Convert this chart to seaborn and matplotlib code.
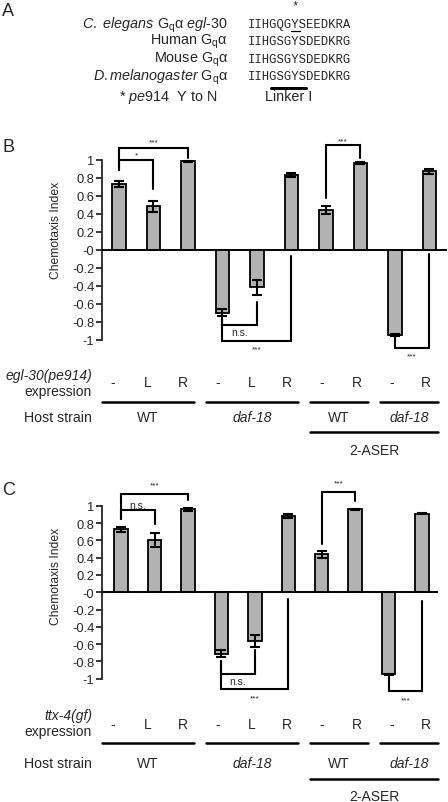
import numpy as np
import pandas as pd
import matplotlib.pyplot as plt
import seaborn as sns
from matplotlib.lines import Line2D

sns.set_style("ticks")
plt.rcParams['font.family'] = ['Liberation Sans', 'DejaVu Sans']
plt.rcParams['mathtext.fontset'] = 'custom'
plt.rcParams['mathtext.rm'] = 'Liberation Sans'
plt.rcParams['mathtext.it'] = 'Liberation Sans:italic'
plt.rcParams['axes.unicode_minus'] = False

W, H = 448, 803

# ---- data
conditions = ['WT -', 'WT L', 'WT R', 'daf-18 -', 'daf-18 L', 'daf-18 R',
              '2-ASER WT -', '2-ASER WT R', '2-ASER daf-18 -', '2-ASER daf-18 R']
expression = ['-', 'L', 'R', '-', 'L', 'R', '-', 'R', '-', 'R']
host_groups = ['WT', 'daf-18', 'WT', 'daf-18']
host_sizes = [3, 3, 2, 2]

egl30_ci = [0.73, 0.48, 0.98, -0.70, -0.42, 0.83, 0.44, 0.96, -0.95, 0.87]
egl30_sem = [0.03, 0.06, 0.01, 0.04, 0.08, 0.02, 0.04, 0.01, 0.01, 0.03]
ttx4_ci = [0.73, 0.60, 0.96, -0.71, -0.56, 0.88, 0.44, 0.96, -0.95, 0.91]
ttx4_sem = [0.03, 0.08, 0.02, 0.04, 0.07, 0.02, 0.04, 0.005, 0.01, 0.01]

# bracket: (bar i, bar j, level, leg end i, leg end j, label, label y)
egl30_sig = [(0, 1, 1.00, 0.88, 0.67, '*', 1.05),
             (0, 2, 1.13, 0.88, 1.02, '***', 1.20),
             (6, 7, 1.16, 0.57, 1.02, '***', 1.21),
             (3, 4, -0.84, -0.76, -0.58, 'n.s.', -0.92),
             (3, 5, -1.01, -0.76, -0.07, '***', -1.10),
             (8, 9, -1.09, -0.96, -0.05, '***', -1.18)]
ttx4_sig = [(0, 1, 0.95, 0.85, 0.79, 'n.s.', 1.01),
            (0, 2, 1.14, 0.85, 1.07, '***', 1.24),
            (6, 7, 1.16, 0.56, 1.05, '***', 1.27),
            (3, 4, -0.95, -0.80, -0.67, 'n.s.', -1.03),
            (3, 5, -1.12, -0.80, -0.08, '***', -1.22),
            (8, 9, -1.14, -0.97, -0.10, '***', -1.24)]

seq_names = [r'$\it{C.\ elegans}$ G$_\mathrm{q}$α $\it{egl}$-$\it{30}$',
             r'Human G$_\mathrm{q}$α', r'Mouse G$_\mathrm{q}$α',
             r'$\it{D.melanogaster}$ G$_\mathrm{q}$α']
sequences = ['IIHGQGYSEEDKRA', 'IIHGSGYSDEDKRG', 'IIHGSGYSDEDKRG', 'IIHGSGYSDEDKRG']


def fx(x):
    return x / W


def fy(y):
    return 1 - y / H


def hline(fig, x0, x1, y, lw=1.8):
    fig.add_artist(Line2D([fx(x0), fx(x1)], [fy(y), fy(y)], color='black', lw=lw))


fig = plt.figure(figsize=(W / 100, H / 100), dpi=100)

# ---- panel A
fig.text(fx(2), fy(12), 'A', fontsize=13, va='center')
for k, (name, s) in enumerate(zip(seq_names, sequences)):
    y = 25 + 17.3 * k
    fig.text(fx(228), fy(y), name, fontsize=10.4, ha='right', va='center')
    fig.text(fx(248), fy(y), s, fontsize=8.8, family='Liberation Mono', va='center')
fig.text(fx(295.5), fy(6), '*', fontsize=9, ha='center', va='center', family='Liberation Mono')
hline(fig, 291, 299.5, 31.5, lw=0.9)
hline(fig, 271, 306, 88.5, lw=2.2)
fig.text(fx(217), fy(97), r'* $\it{pe914}$  Y to N', fontsize=10.4, ha='right', va='center')
fig.text(fx(289), fy(97), 'Linker I', fontsize=10.4, ha='center', va='center')


def panel(rect, xlim, ylim, ci, sem, sig, gene, rows, letter, letter_y, label_y):
    ax = fig.add_axes(rect)
    df = pd.DataFrame({'condition': conditions, 'ci': ci})
    sns.barplot(data=df, x='condition', y='ci', order=conditions, ax=ax,
                color='#b2b2b2', saturation=1, edgecolor='black', linewidth=1.3,
                width=0.4, errorbar=None)
    ax.errorbar(np.arange(len(ci)), ci, yerr=sem, fmt='none', ecolor='black',
                elinewidth=1.5, capsize=3.5, capthick=1.5)
    ax.axhline(0, color='black', lw=1.4, zorder=5)
    ax.set_xlim(*xlim)
    ax.set_ylim(*ylim)
    for side in ['top', 'right', 'bottom']:
        ax.spines[side].set_visible(False)
    ax.spines['left'].set_bounds(-1, 1)
    ax.spines['left'].set_linewidth(1.3)
    ticks = np.round(np.arange(-1, 1.01, 0.2), 1)
    ax.set_yticks(ticks)
    ax.set_yticklabels([f'{t:g}' for t in ticks])
    ax.set_xticks([])
    ax.set_xlabel('')
    ax.tick_params(axis='y', direction='out', length=4.5, width=1.3, labelsize=9.3, pad=1)
    ax.set_ylabel('Chemotaxis Index', fontsize=8.7)
    # label sits a little above the zero line, as in the original
    ax.yaxis.set_label_coords((62 - rect[0] * W) / (rect[2] * W),
                              (label_y - ylim[0]) / (ylim[1] - ylim[0]))
    ax.patch.set_alpha(0)

    for i, j, lev, yi, yj, lab, ly in sig:
        ax.plot([i, i, j, j], [yi, lev, lev, yj], color='black', lw=1.5,
                clip_on=False, solid_joinstyle='miter')
        ax.text((i + j) / 2, ly, lab, ha='center', va='center',
                fontsize=7.5 if lab == 'n.s.' else 6)

    fig.text(fx(2), fy(letter_y), letter, fontsize=13, va='center')

    # category table below
    gene_y, expr_y, lab_y, line_y, host_y, aser_line_y, aser_y = rows
    fig.text(fx(92), fy(gene_y), gene, fontsize=10, ha='right', va='center', style='italic')
    fig.text(fx(92), fy(expr_y), 'expression', fontsize=10, ha='right', va='center')
    fig.text(fx(92), fy(host_y), 'Host strain', fontsize=10.2, ha='right', va='center')
    lab_x = [113 + 34.8 * k for k in range(len(expression))]
    for x, e in zip(lab_x, expression):
        fig.text(fx(x), fy(lab_y), e, fontsize=10, ha='center', va='center')
    start = 0
    for g, n in zip(host_groups, host_sizes):
        x0 = lab_x[start] - 11.4
        x1 = lab_x[start + n - 1] + 11.4
        hline(fig, x0, x1, line_y)
        fig.text(fx((x0 + x1) / 2), fy(host_y), g, fontsize=10, ha='center', va='center',
                 style='italic' if g != 'WT' else 'normal')
        start += n
    x0 = lab_x[6] - 11.4
    x1 = lab_x[9] + 11.4
    hline(fig, x0, x1, aser_line_y)
    fig.text(fx((x0 + x1) / 2), fy(aser_y), '2-ASER', fontsize=10, ha='center', va='center')
    return ax


# panel B: y=0 at px 250.7, 90 px per unit, spine at px 102
panel([102 / W, fy(250.7 + 90 * 1.3), 345 / W, 90 * 2.6 / H], (-0.49, 9.51), (-1.3, 1.3),
      egl30_ci, egl30_sem, egl30_sig, 'egl-30(pe914)',
      (376, 392, 383, 403, 418, 433, 451), 'B', 147, 0.23)

# panel C: y=0 at px 593.3, 86.5 px per unit
panel([102 / W, fy(593.3 + 86.5 * 1.35), 336 / W, 86.5 * 2.7 / H], (-0.57, 9.477), (-1.35, 1.35),
      ttx4_ci, ttx4_sem, ttx4_sig, 'ttx-4(gf)',
      (716, 731.7, 725, 744, 764, 780, 796.7), 'C', 491, 0.19)

fig.savefig('out.png', dpi=100)
